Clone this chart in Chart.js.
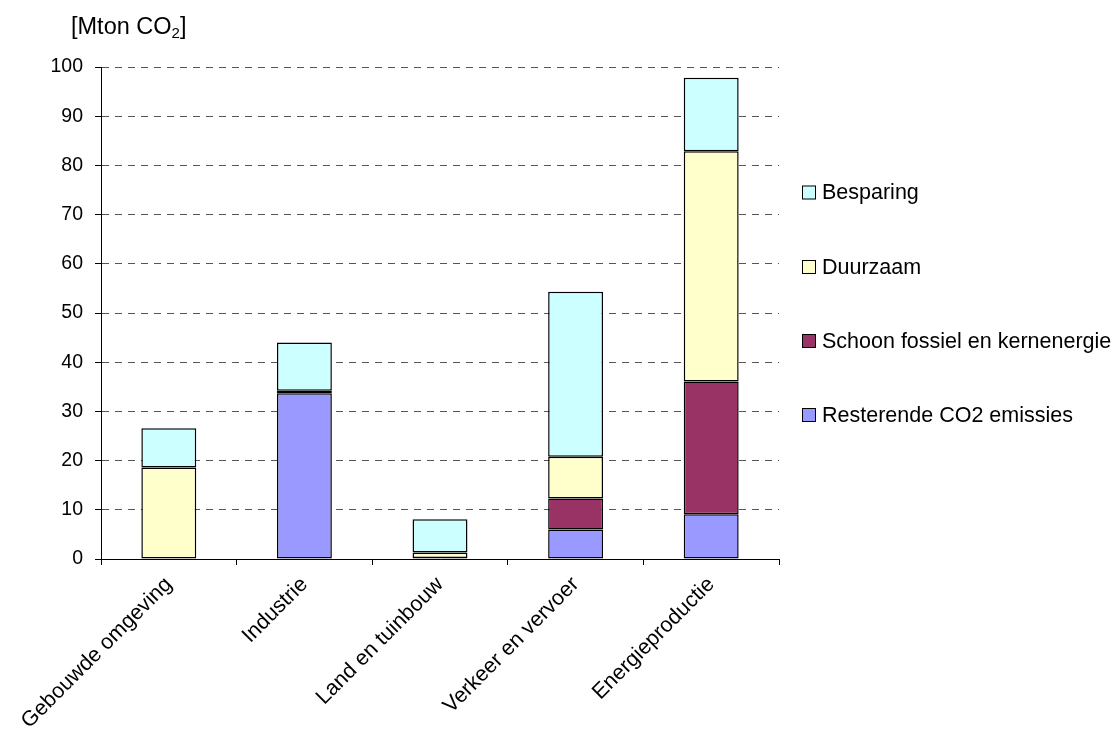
<!DOCTYPE html>
<html>
<head>
<meta charset="utf-8">
<script src="https://cdn.jsdelivr.net/npm/chart.js@4.4.0/dist/chart.umd.min.js"></script>
<style>
  html, body { margin: 0; padding: 0; background: #fff; }
  #wrap { width: 1119px; height: 733px; }
</style>
</head>
<body>
<div id="wrap"><canvas id="grafiek" width="1119" height="733"></canvas></div>
<script>
// sectoren en reductie per categorie (Mton CO2)
const sectoren = ['Gebouwde omgeving', 'Industrie', 'Land en tuinbouw', 'Verkeer en vervoer', 'Energieproductie'];
const resterend = [0, 33.7, 0, 6.0, 9.1];
const schoonFossiel = [0, 0.5, 0.2, 6.3, 27.0];
const duurzaam = [18.6, 0, 1.1, 8.5, 46.8];
const besparing = [8.0, 9.8, 6.8, 33.5, 14.9];
const yTicks = [0, 10, 20, 30, 40, 50, 60, 70, 80, 90, 100];

const FONT = "'Liberation Sans', Arial, sans-serif";

// titel van de y-as en legenda, zelf getekend
const extraTekst = {
  id: 'extraTekst',
  afterDraw(chart) {
    const ctx = chart.ctx;
    ctx.save();
    ctx.fillStyle = '#000';
    ctx.textBaseline = 'alphabetic';
    ctx.textAlign = 'left';
    ctx.font = '23.5px ' + FONT;
    let x = 71;
    const base = 34;
    ctx.fillText('[Mton CO', x, base);
    x += ctx.measureText('[Mton CO').width;
    ctx.font = '15px ' + FONT;
    ctx.fillText('2', x, base + 4);
    x += ctx.measureText('2').width;
    ctx.font = '23.5px ' + FONT;
    ctx.fillText(']', x, base);

    // legenda: bovenste laag eerst
    const sets = chart.data.datasets.slice().reverse();
    const ys = [192.5, 267, 341, 415];
    ctx.font = '21.5px ' + FONT;
    ctx.textBaseline = 'middle';
    sets.forEach((ds, i) => {
      const y = ys[i];
      ctx.fillStyle = ds.backgroundColor;
      ctx.fillRect(802, y - 7, 14, 14);
      ctx.strokeStyle = '#000';
      ctx.lineWidth = 1;
      ctx.strokeRect(802.5, y - 6.5, 13, 13);
      ctx.fillStyle = '#000';
      ctx.fillText(ds.label, 822, y + 1);
    });
    ctx.restore();
  }
};

const laag = (label, data, kleur) => ({
  label, data,
  backgroundColor: kleur,
  borderColor: '#000',
  borderWidth: 1.5,
  borderSkipped: false,
  categoryPercentage: 1,
  barPercentage: 0.405
});

new Chart(document.getElementById('grafiek'), {
  type: 'bar',
  data: {
    labels: sectoren,
    datasets: [
      laag('Resterende CO2 emissies', resterend, '#9999FF'),
      laag('Schoon fossiel en kernenergie', schoonFossiel, '#993366'),
      laag('Duurzaam', duurzaam, '#FFFFCC'),
      laag('Besparing', besparing, '#CCFFFF')
    ]
  },
  options: {
    responsive: false,
    animation: false,
    layout: { padding: { left: 0, top: 67, right: 340, bottom: 0 } },
    plugins: {
      legend: { display: false },
      tooltip: { enabled: false }
    },
    scales: {
      x: {
        stacked: true,
        grid: { offset: true, drawOnChartArea: false, drawTicks: true, tickLength: 6, color: '#000' },
        border: { color: '#000', width: 1 },
        ticks: {
          font: { family: FONT, size: 21.5 },
          color: '#000',
          minRotation: 45,
          maxRotation: 45,
          autoSkip: false,
          padding: 7
        },
        afterFit: s => { s.height = 174; }
      },
      y: {
        stacked: true,
        min: 0,
        max: 100,
        afterBuildTicks: s => { s.ticks = yTicks.map(v => ({ value: v })); },
        grid: { color: '#555', tickColor: '#000', tickBorderDash: [], tickLength: 6 },
        border: { color: '#000', width: 1, dash: [7, 6] },
        ticks: { font: { family: FONT, size: 19.5 }, color: '#000', padding: 12 },
        afterFit: s => { s.width = 101; }
      }
    }
  },
  plugins: [extraTekst]
});
</script>
</body>
</html>
